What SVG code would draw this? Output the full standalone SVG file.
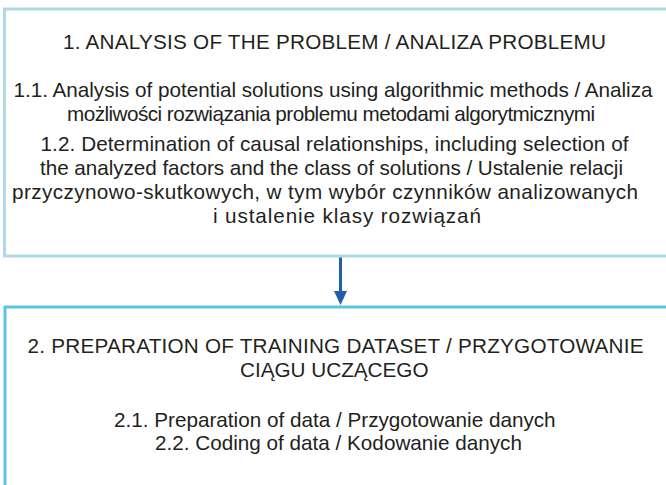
<svg xmlns="http://www.w3.org/2000/svg" width="666" height="485" viewBox="0 0 666 485">
<style>
.t{font-family:"Liberation Sans",Arial,sans-serif;font-size:20.7px;fill:#231f20}
.m{text-anchor:middle}
.box1{fill:none;stroke:#acdbe6;stroke-width:3}
.box2{fill:none;stroke:#5cc4e6;stroke-width:3}
</style>
<rect width="666" height="485" fill="#fff"/>
<g id="node1">
<rect class="box1" x="4.5" y="9" width="700" height="247"/>
<text class="t" x="63" y="49" textLength="543">1. ANALYSIS OF THE PROBLEM / ANALIZA PROBLEMU</text>
<text class="t" x="13.5" y="96.5" textLength="639">1.1. Analysis of potential solutions using algorithmic methods / Analiza</text>
<text class="t" x="67" y="120.5" textLength="528">możliwości rozwiązania problemu metodami algorytmicznymi</text>
<text class="t" x="40.5" y="151" textLength="588">1.2. Determination of causal relationships, including selection of</text>
<text class="t" x="40" y="175" textLength="583">the analyzed factors and the class of solutions / Ustalenie relacji</text>
<text class="t" x="12" y="199" textLength="626">przyczynowo-skutkowych, w tym wybór czynników analizowanych</text>
<text class="t" x="213" y="222.5" textLength="268">i ustalenie klasy rozwiązań</text>
</g>
<g id="node2">
<rect class="box2" x="5" y="307" width="700" height="300"/>
<text class="t m" x="335.5" y="353" textLength="616">2. PREPARATION OF TRAINING DATASET / PRZYGOTOWANIE</text>
<text class="t" x="240" y="377">CIĄGU UCZĄCEGO</text>
<text class="t" x="114" y="427">2.1. Preparation of data / Przygotowanie danych</text>
<text class="t" x="155" y="450">2.2. Coding of data / Kodowanie danych</text>
</g>
<g id="connectors">
<line x1="340.5" y1="257.5" x2="340.5" y2="292" stroke="#1f5fa9" stroke-width="3"/>
<polygon points="334,291 347,291 340.5,305" fill="#1f5fa9"/>
</g>
</svg>
